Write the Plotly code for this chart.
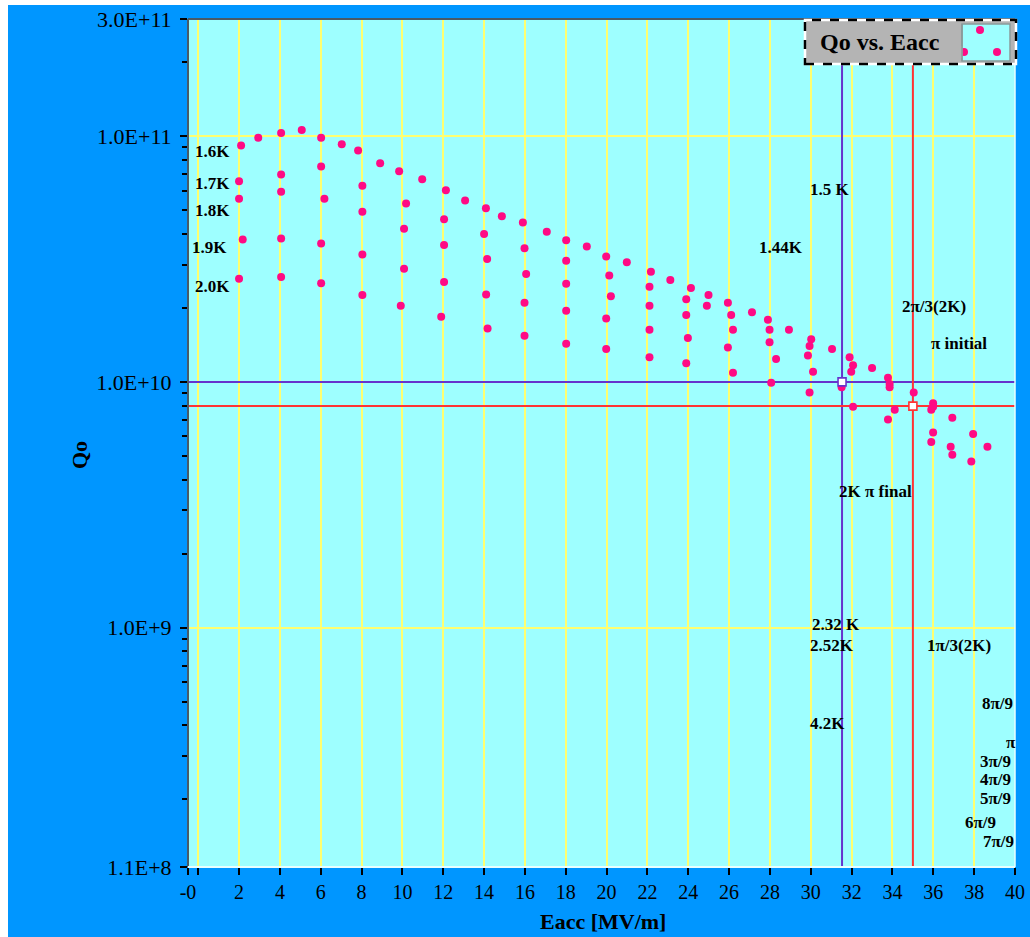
import math
import plotly.graph_objects as go

# ---------------- data (Qo in units of 1e10) ----------------
eacc_16K = [2.1, 2.94, 4.06, 5.07, 6.02, 7.03, 7.83, 8.91, 9.84, 10.97,
            12.13, 13.07, 14.09, 14.87, 15.9, 17.07, 18.02, 19.03, 19.98, 20.99,
            22.17, 23.12, 24.13, 24.99, 25.94, 27.12, 27.9, 28.93, 30.02, 31.04,
            31.9, 33.0, 33.78, 35.04, 35.99, 36.93, 37.95]
qo_16K = [9.17, 9.85, 10.3, 10.6, 9.85, 9.27, 8.75, 7.76, 7.20, 6.68,
          6.03, 5.48, 5.09, 4.72, 4.45, 4.08, 3.77, 3.56, 3.24, 3.07,
          2.81, 2.60, 2.41, 2.26, 2.10, 1.92, 1.79, 1.63, 1.49, 1.36,
          1.26, 1.14, 1.04, 0.906, 0.818, 0.714, 0.613]

eacc_17K = [2.0, 4.06, 6.02, 8.04, 10.18, 12.04, 14.0, 15.98, 18.02, 20.13,
            22.1, 23.9, 24.91, 26.1, 27.98, 29.94, 32.07, 33.86, 35.99, 36.85]
qo_17K = [6.56, 6.98, 7.53, 6.28, 5.32, 4.59, 4.00, 3.50, 3.11, 2.71,
          2.44, 2.17, 2.04, 1.87, 1.63, 1.40, 1.17, 0.98, 0.793, 0.545]

eacc_18K = [2.0, 4.06, 6.18, 8.04, 10.08, 12.04, 14.15, 16.06, 18.02, 20.21,
            22.1, 23.9, 26.19, 27.98, 29.86, 31.98, 33.86, 35.9, 36.93]
qo_18K = [5.57, 5.94, 5.57, 4.93, 4.20, 3.61, 3.16, 2.75, 2.51, 2.23,
          2.04, 1.87, 1.63, 1.45, 1.28, 1.10, 0.95, 0.771, 0.505]

eacc_19K = [2.18, 4.06, 6.02, 8.04, 10.08, 12.04, 14.1, 15.98, 18.02, 19.98,
            22.1, 23.98, 25.94, 28.3, 30.11, 31.51, 34.11, 35.99, 37.86]
qo_19K = [3.80, 3.83, 3.66, 3.30, 2.89, 2.55, 2.27, 2.10, 1.95, 1.81,
          1.63, 1.51, 1.38, 1.24, 1.10, 0.95, 0.771, 0.622, 0.474]

eacc_20K = [2.0, 4.06, 6.02, 8.04, 9.92, 11.9, 14.17, 15.98, 18.02, 19.98,
            22.1, 23.9, 26.19, 28.06, 29.94, 32.07, 33.78, 35.9, 38.65]
qo_20K = [2.63, 2.67, 2.52, 2.26, 2.04, 1.84, 1.65, 1.54, 1.43, 1.36,
          1.26, 1.19, 1.09, 0.993, 0.906, 0.793, 0.703, 0.569, 0.545]

# cursors (Eacc, Qo)
cursor_eacc = [31.53, 35.0]
cursor_qo = [1.0e10, 7.97e9]
cursor_colors = ["#6633cc", "#ff3333"]

x_range = [-0.5, 40]
y_range = [1.06e8, 3e11]
x_tickvals = [-0.5, 0] + list(range(2, 41, 2))
x_ticktext = ["-0", ""] + [str(v) for v in range(2, 41, 2)]
y_tickvals = [1.06e8, 1e9, 1e10, 1e11, 3e11]
y_ticktext = ["1.1E+8", "1.0E+9", "1.0E+10", "1.0E+11", "3.0E+11"]
y_minor = [m * 10 ** e for e in (8, 9, 10) for m in range(2, 10)] + [2e11]

labels = [
    ("1.6K", 212, 152), ("1.7K", 212, 184), ("1.8K", 212, 210),
    ("1.9K", 209, 247), ("2.0K", 212, 286),
    ("1.5 K", 829.5, 189), ("1.44K", 780.5, 247),
    ("2π/3(2K)", 934, 306), ("π initial", 958.5, 343),
    ("2K π final", 875.5, 492),
    ("2.32 K", 836, 625), ("2.52K", 831.5, 645), ("1π/3(2K)", 958.5, 645),
    ("8π/9", 997.5, 703), ("4.2K", 827, 723), ("π", 1011, 742),
    ("3π/9", 995.5, 761), ("4π/9", 995.5, 779), ("5π/9", 995.5, 798),
    ("6π/9", 980.5, 822), ("7π/9", 998.5, 841),
]

# ---------------- layout geometry ----------------
W, H = 1030, 937
L, R, T, B = 188, 15, 19, 70
PX0, PX1, PY0, PY1 = L, W - R, T, H - B


def fx(p):
    return (p - PX0) / (PX1 - PX0)


def fy(p):
    return (PY1 - p) / (PY1 - PY0)


FONT = "Liberation Serif"
BLUE = "#0096ff"
CYAN = "#9effff"
GRID = "#ffff70"
PINK = "#ff0a84"

all_x = eacc_16K + eacc_17K + eacc_18K + eacc_19K + eacc_20K
all_y = [v * 1e10 for v in (qo_16K + qo_17K + qo_18K + qo_19K + qo_20K)]

fig = go.Figure()
# cursor lines (drawn first so the data points sit on top)
for cx, cq, col in zip(cursor_eacc, cursor_qo, cursor_colors):
    fig.add_trace(go.Scatter(x=x_range, y=[cq, cq], mode="lines", showlegend=False,
                             hoverinfo="skip", line=dict(color=col, width=2)))
    fig.add_trace(go.Scatter(x=[cx, cx], y=y_range, mode="lines", showlegend=False,
                             hoverinfo="skip", line=dict(color=col, width=2)))
fig.add_trace(go.Scatter(
    x=all_x, y=all_y, mode="markers", name="Qo vs. Eacc",
    marker=dict(color=PINK, size=8, line=dict(width=0)),
    showlegend=False, hoverinfo="x+y"))
fig.add_trace(go.Scatter(
    x=cursor_eacc, y=cursor_qo, mode="markers", showlegend=False,
    marker=dict(symbol="square", size=8, color="white",
                line=dict(color=cursor_colors, width=1.6))))

shapes = []
# white strips at the top / left edge of the page
shapes.append(dict(type="rect", xref="paper", yref="paper", layer="below",
                   x0=fx(0), x1=fx(W), y0=fy(5), y1=fy(0),
                   fillcolor="white", line=dict(width=0)))
shapes.append(dict(type="rect", xref="paper", yref="paper", layer="below",
                   x0=fx(0), x1=fx(8), y0=fy(H), y1=fy(0),
                   fillcolor="white", line=dict(width=0)))
# plot frame
shapes.append(dict(type="line", xref="paper", yref="paper", x0=0, x1=0, y0=0, y1=1,
                   line=dict(color="#4a5a66", width=2)))
shapes.append(dict(type="line", xref="paper", yref="paper", x0=0, x1=1, y0=1, y1=1,
                   line=dict(color="#4a5a66", width=2)))
shapes.append(dict(type="line", xref="paper", yref="paper", x0=0, x1=1, y0=0, y1=0,
                   line=dict(color="#e8ffff", width=2)))
shapes.append(dict(type="line", xref="paper", yref="paper", x0=1, x1=1, y0=0, y1=1,
                   line=dict(color="#e8ffff", width=1.5)))
# legend box
lx0, lx1, ly0, ly1 = 805, 1016, 20, 64
shapes.append(dict(type="rect", xref="paper", yref="paper",
                   x0=fx(lx0), x1=fx(lx1), y0=fy(ly1), y1=fy(ly0),
                   fillcolor="#b4b4b4", line=dict(color="white", width=2.5)))
shapes.append(dict(type="rect", xref="paper", yref="paper",
                   x0=fx(lx0), x1=fx(lx1), y0=fy(ly1), y1=fy(ly0),
                   line=dict(color="black", width=2.5, dash="dash")))
shapes.append(dict(type="rect", xref="paper", yref="paper",
                   x0=fx(962), x1=fx(1010), y0=fy(61), y1=fy(24),
                   fillcolor=CYAN, line=dict(color="#8a9a9a", width=1.5)))
for cxp, cyp in [(980, 30), (964, 52), (997, 52)]:
    shapes.append(dict(type="circle", xref="paper", yref="paper",
                       x0=fx(cxp - 4), x1=fx(cxp + 4), y0=fy(cyp + 4), y1=fy(cyp - 4),
                       fillcolor=PINK, line=dict(width=0)))
shapes.append(dict(type="rect", xref="paper", yref="paper",
                   x0=fx(958), x1=fx(962.5), y0=fy(58), y1=fy(46),
                   fillcolor="#b4b4b4", line=dict(width=0)))
shapes.append(dict(type="line", xref="paper", yref="paper",
                   x0=fx(962), x1=fx(962), y0=fy(61), y1=fy(24),
                   line=dict(color="#8a9a9a", width=1.5)))

annotations = []
for txt, cx, cy in labels:
    annotations.append(dict(text=txt, x=fx(cx), y=fy(cy), xref="paper", yref="paper",
                            xanchor="center", yanchor="middle", showarrow=False,
                            font=dict(family=FONT, size=17, color="black", weight="bold")))
annotations.append(dict(text="Qo vs. Eacc", x=fx(880), y=fy(42), xref="paper", yref="paper",
                        xanchor="center", yanchor="middle", showarrow=False,
                        font=dict(family=FONT, size=24, color="black", weight="bold")))
annotations.append(dict(text="Eacc [MV/m]", x=fx(603), y=fy(921), xref="paper", yref="paper",
                        xanchor="center", yanchor="middle", showarrow=False,
                        font=dict(family=FONT, size=22, color="black", weight="bold")))
annotations.append(dict(text="Qo", x=fx(80), y=fy(455), xref="paper", yref="paper",
                        xanchor="center", yanchor="middle", showarrow=False, textangle=-90,
                        font=dict(family=FONT, size=22, color="black", weight="bold")))

fig.update_layout(
    width=W, height=H, autosize=False,
    margin=dict(l=L, r=R, t=T, b=B, pad=0, autoexpand=False),
    paper_bgcolor=BLUE, plot_bgcolor=CYAN,
    showlegend=False,
    shapes=shapes, annotations=annotations,
    xaxis=dict(range=x_range, tickmode="array", tickvals=x_tickvals, ticktext=x_ticktext,
               automargin=False,
               showgrid=True, gridcolor=GRID, gridwidth=1.5, zeroline=False,
               ticks="outside", ticklen=7, tickwidth=2, tickcolor="black",
               tickfont=dict(family=FONT, size=20, color="black"), showline=False),
    yaxis=dict(type="log", range=[math.log10(y_range[0]), math.log10(y_range[1])],
               automargin=False,
               tickmode="array", tickvals=y_tickvals, ticktext=y_ticktext,
               showgrid=True, gridcolor=GRID, gridwidth=1.5, zeroline=False,
               ticks="outside", ticklen=7, tickwidth=2, tickcolor="black",
               ticklabelstandoff=4,
               tickfont=dict(family=FONT, size=22, color="black"), showline=False,
               minor=dict(tickmode="array", tickvals=y_minor, ticks="outside", ticklen=5,
                          tickwidth=2, tickcolor="black", showgrid=False)),
)

fig.write_html("out.html")
